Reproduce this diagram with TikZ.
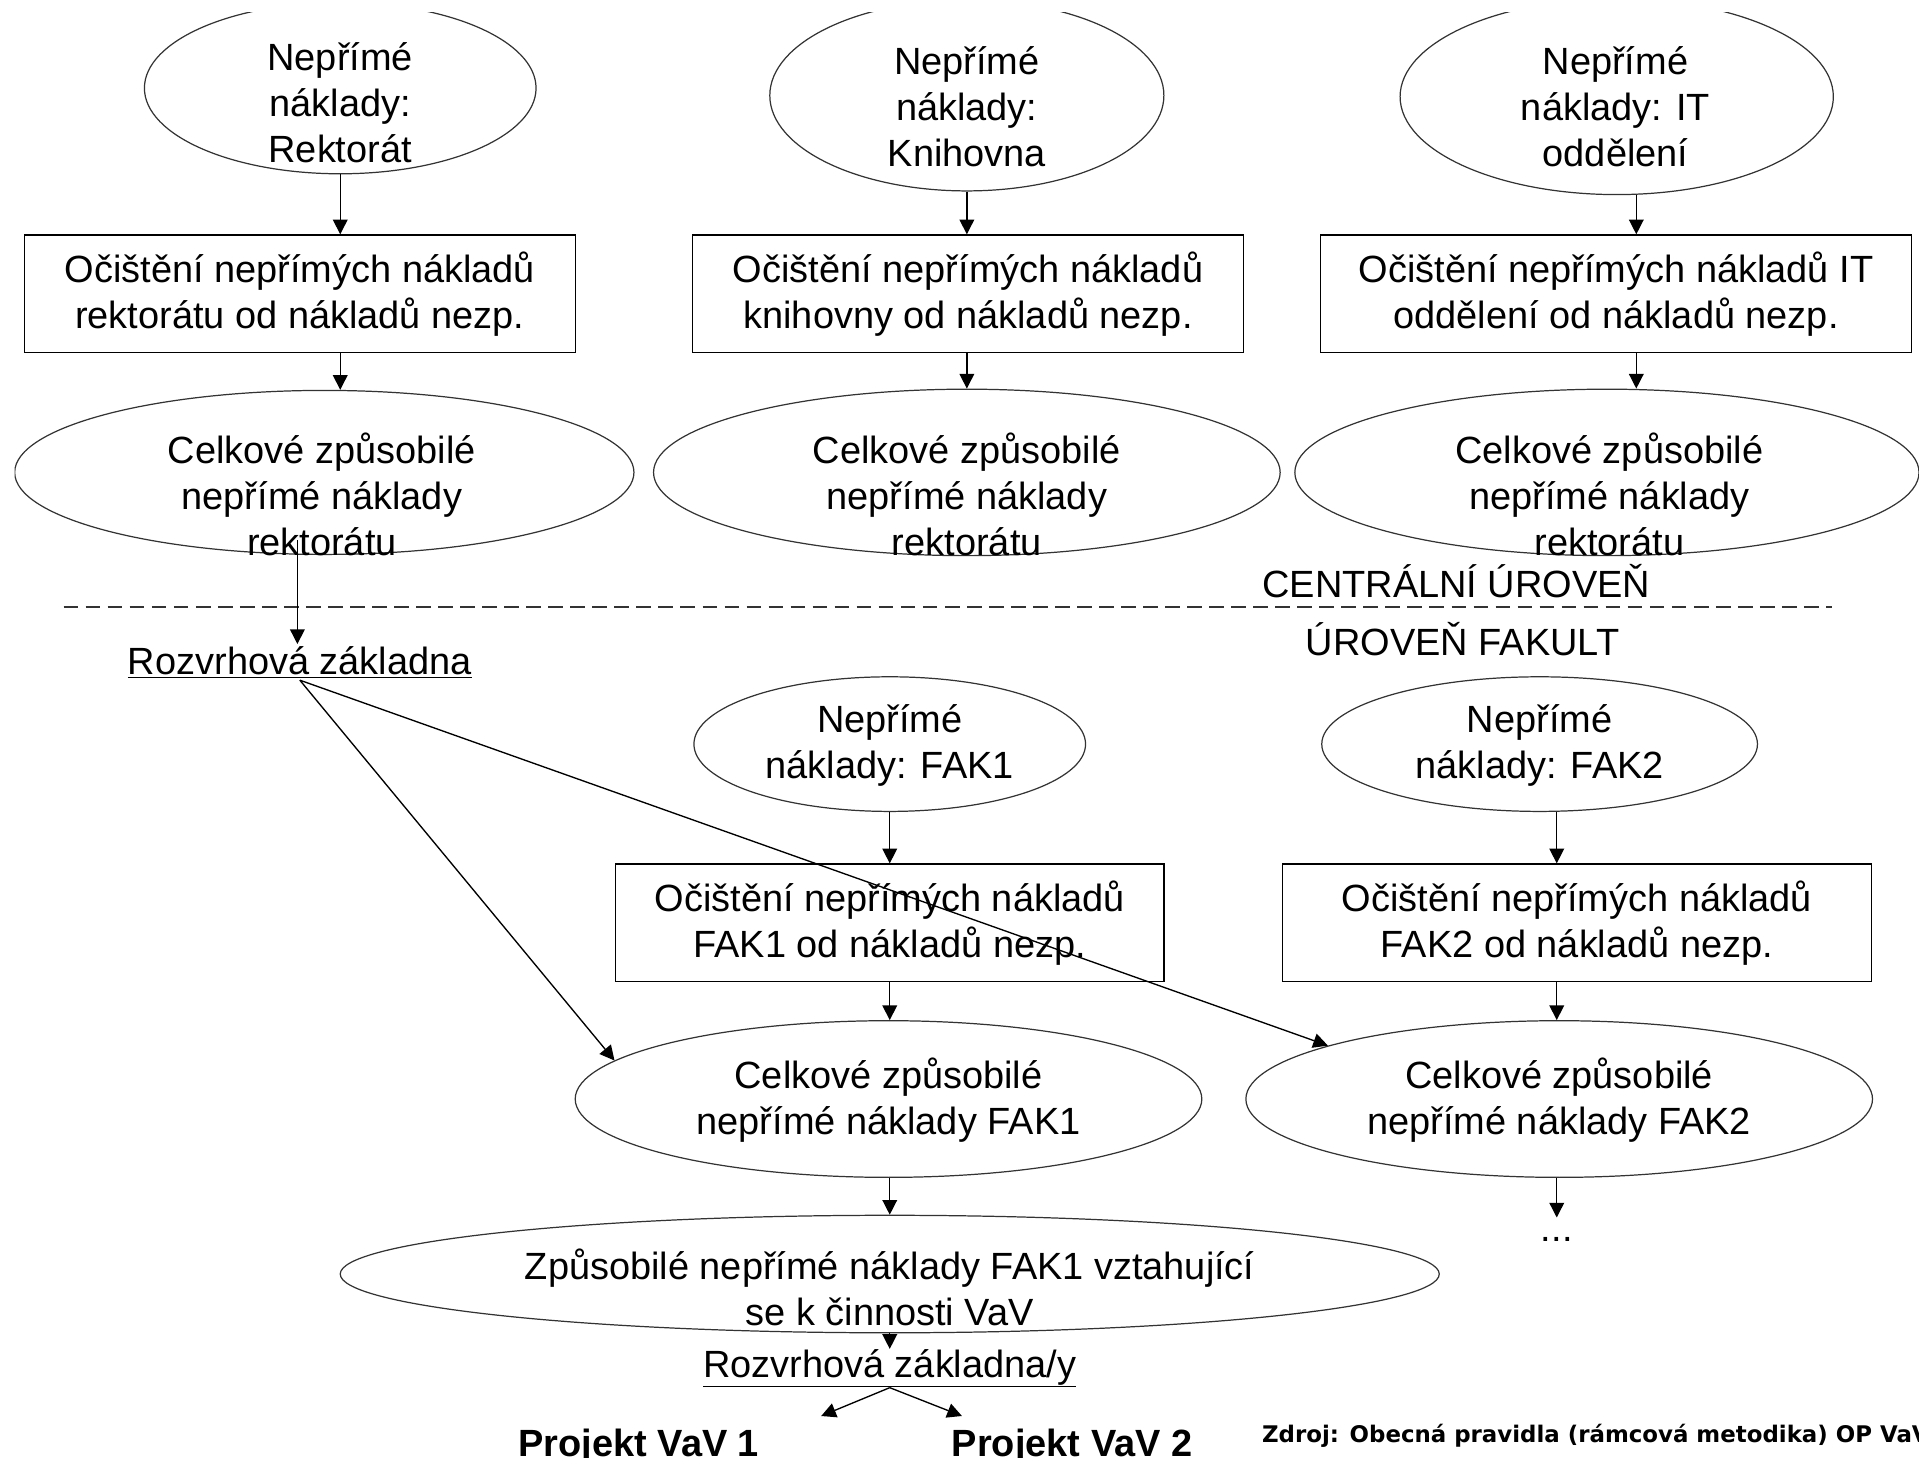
\documentclass[tikz,border=0pt]{standalone}
\usepackage{fontspec}
\setmainfont{Liberation Sans}
\newfontfamily\srcfont{DejaVu Sans}
\usetikzlibrary{shapes.geometric,arrows.meta}
\newcommand\mainfs{\fontsize{31}{37.5}\selectfont}
\begin{document}
\begin{tikzpicture}[x=1pt,y=-1pt,
  ell/.style={draw=black!80, line width=1pt, ellipse, inner sep=0pt},
  boxnode/.style={draw=black, line width=1.1pt, rectangle, inner sep=0pt, align=center, font=\mainfs},
  txt/.style={align=center, inner sep=0pt, font=\mainfs},
  arr/.style={-{Triangle[length=12pt,width=12pt]}, line width=1.1pt},
  divider/.style={draw=black!80, line width=1pt, dash pattern=on 12pt off 6pt},
]
\useasboundingbox (0,0) rectangle (1568,1191);
\begin{scope}
\clip (12,10) rectangle (1568,1191);

\coordinate (x243) at (243,0);
\coordinate (x1337) at (1337,0);
\coordinate (x1272) at (1272,0);

% ---- row 1
\node[ell, minimum width=320, minimum height=140] (e1) at (278,72) {};
\node[ell, minimum width=322, minimum height=156] (e2) at (790,78) {};
\node[ell, minimum width=354, minimum height=160] (e3) at (1321,79) {};
\node[txt] (t1) at (278,84) {Nepřímé\\náklady:\\Rektorát};
\node[txt] (t2) at (790,87) {Nepřímé\\náklady:\\Knihovna};
\node[txt] (t3) at (1320,87) {Nepřímé\\náklady: IT\\oddělení};

% ---- row 2
\node[boxnode, minimum width=450, minimum height=96] (b1) at (245,240) {Očištění nepřímých nákladů\\rektorátu od nákladů nezp.};
\node[boxnode, minimum width=450, minimum height=96] (b2) at (791,240) {Očištění nepřímých nákladů\\knihovny od nákladů nezp.};
\node[boxnode, minimum width=483, minimum height=96] (b3) at (1320.5,240) {Očištění nepřímých nákladů IT\\oddělení od nákladů nezp.};

% ---- row 3
\node[ell, minimum width=506, minimum height=134] (e4) at (265,386) {};
\node[ell, minimum width=512, minimum height=136] (e5) at (790,386) {};
\node[ell, minimum width=510, minimum height=136] (e6) at (1313,386) {};
\node[txt] (t4) at (263,404) {Celkové způsobilé\\nepřímé náklady\\rektorátu};
\node[txt] (t5) at (790,404) {Celkové způsobilé\\nepřímé náklady\\rektorátu};
\node[txt] (t6) at (1315,404) {Celkové způsobilé\\nepřímé náklady\\rektorátu};

% ---- levels
\node[txt] (cu) at (1190,475) {CENTRÁLNÍ ÚROVEŇ};
\coordinate (dl) at (52,496);
\coordinate (dr) at (1497,496);
\draw[divider] (dl) -- (dr);
\node[txt] (uf) at (1195,522) {ÚROVEŇ FAKULT};

\node[txt, inner sep=2pt] (rz1) at (245,541) {\underline{Rozvrhová základna}};

% ---- row 4
\node[ell, minimum width=320, minimum height=110] (e7) at (727,608) {};
\node[ell, minimum width=356, minimum height=110] (e8) at (1258,608) {};
\node[txt] (t7) at (727,609) {Nepřímé\\náklady: FAK1};
\node[txt] (t8) at (1258,609) {Nepřímé\\náklady: FAK2};

% ---- row 5
\node[boxnode, minimum width=448, minimum height=96] (b4) at (727,754) {Očištění nepřímých nákladů\\FAK1 od nákladů nezp.};
\node[boxnode, minimum width=481, minimum height=96] (b5) at (1288.5,754) {Očištění nepřímých nákladů\\FAK2 od nákladů nezp.};

% ---- row 6
\node[ell, minimum width=512, minimum height=128] (e9) at (726,898) {};
\node[ell, minimum width=512, minimum height=128] (e10) at (1274,898) {};
\node[txt] (t9) at (726,899) {Celkové způsobilé\\nepřímé náklady FAK1};
\node[txt] (t10) at (1274,899) {Celkové způsobilé\\nepřímé náklady FAK2};

\node[txt, anchor=base, text height=19pt] (dots) at (1272,1014) {...};

% ---- row 7
\node[ell, minimum width=898, minimum height=96] (e11) at (727,1041) {};
\node[txt] (t11) at (727,1052) {Způsobilé nepřímé náklady FAK1 vztahující\\se k činnosti VaV};

\node[txt] (rz2) at (727,1118) {\underline{Rozvrhová základna/y}};
\coordinate (pa) at (671,1157);
\coordinate (pb) at (786,1157);

\node[anchor=base, inner sep=0pt, font=\bfseries\fontsize{31}{37}\selectfont] (p1) at (522,1190) {Projekt VaV 1};
\node[anchor=base, inner sep=0pt, font=\bfseries\fontsize{31}{37}\selectfont] (p2) at (876,1190) {Projekt VaV 2};

\node[anchor=base west, inner sep=0pt, font=\srcfont\bfseries\fontsize{18.7}{22}\selectfont] (src) at (1031,1179) {Zdroj: Obecná pravidla (rámcová metodika) OP VaV};

% ---- connectors
\draw[arr] (e1.south) -- (b1.north -| e1.south);
\draw[arr] (e2.south) -- (b2.north -| e2.south);
\draw[arr] (e3.south -| x1337) -- (b3.north -| x1337);
\draw[arr] (b1.south -| e1.south) -- (e4.north -| e1.south);
\draw[arr] (b2.south -| e2.south) -- (e5.north -| e2.south);
\draw[arr] (b3.south -| x1337) -- (e6.north -| x1337);
\draw[arr] (e4.south -| x243) ++(0,-12) -- (rz1.north -| x243);
\draw[arr] (rz1.south) -- (e9.172);
\draw[arr] (rz1.south) -- (e10.167);
\draw[arr] (e7.south) -- (b4.north -| e7.south);
\draw[arr] (e8.south -| x1272) -- (b5.north -| x1272);
\draw[arr] (b4.south -| e7.south) -- (e9.north -| e7.south);
\draw[arr] (b5.south -| x1272) -- (e10.north -| x1272);
\draw[arr] (e9.south -| e7.south) -- (e11.north -| e7.south);
\draw[arr] (e10.south -| x1272) -- (dots.north);
\draw[arr] (e11.south) -- (rz2.north);
\draw[arr] (rz2.south) -- (pa);
\draw[arr] (rz2.south) -- (pb);
\end{scope}
\end{tikzpicture}
\end{document}
